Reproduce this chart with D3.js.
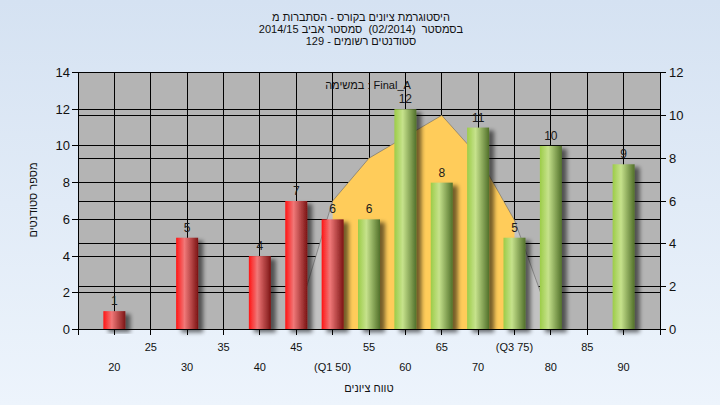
<!DOCTYPE html>
<html><head><meta charset="utf-8">
<script src="https://cdn.jsdelivr.net/npm/d3@7"></script>
<style>html,body{margin:0;padding:0;}svg{display:block;}text{white-space:pre;}</style>
</head><body>
<script>
const categories = [20,25,30,35,40,45,50,55,60,65,70,75,80,85,90];
const tickLabels = ["20","25","30","35","40","45","(Q1 50)","55","60","65","70","(Q3 75)","80","85","90"];
const counts = [1,0,5,0,4,7,6,6,12,8,11,5,10,0,9];
const curveCats = [45,50,55,60,65,70,75,80];
const curveVals = [0.4,6.0,8.0,9.0,10.0,8.1,5.1,0.4];
const q1 = 50, q3 = 75, passMark = 55;
const leftTicks = [0,2,4,6,8,10,12,14];
const rightTicks = [0,2,4,6,8,10,12];
const titleLines = ["היסטוגרמת ציונים בקורס - הסתברות מ","בסמסטר  (02/2014)  סמסטר אביב 2014/15","סטודנטים רשומים - 129"];
const annotation = "במשימה : Final_A";
const xTitle = "טווח ציונים";
const yTitle = "מספר סטודנטים";

const W=720,H=405;
const m={l:78,r:660,t:72.5,b:329.5};
const FONT="'Liberation Sans', Arial, sans-serif";
const svg=d3.select("body").append("svg").attr("width",W).attr("height",H);
const defs=svg.append("defs");
const bg=defs.append("linearGradient").attr("id","bg").attr("x1",0).attr("y1",0).attr("x2",0).attr("y2",1);
bg.append("stop").attr("offset","0%").attr("stop-color","#d5e2f2");
bg.append("stop").attr("offset","100%").attr("stop-color","#edf4fc");
function cyl(id,c0,c1,c2){
  const g=defs.append("linearGradient").attr("id",id).attr("x1",0).attr("y1",0).attr("x2",1).attr("y2",0);
  g.append("stop").attr("offset","0%").attr("stop-color",c0);
  g.append("stop").attr("offset","38%").attr("stop-color",c1);
  g.append("stop").attr("offset","100%").attr("stop-color",c2);
}
cyl("red","#ff1414","#f07878","#7c1414");
cyl("green","#9ccc48","#c6e28c","#51702a");
const f=defs.append("filter").attr("id","sh").attr("x","-50%").attr("y","-20%").attr("width","200%").attr("height","140%");
f.append("feGaussianBlur").attr("in","SourceAlpha").attr("stdDeviation",2).attr("result","b");
f.append("feOffset").attr("in","b").attr("dx",5).attr("dy",3).attr("result","o");
f.append("feComponentTransfer").attr("in","o").attr("result","o2").append("feFuncA").attr("type","linear").attr("slope",0.55);
const mg=f.append("feMerge");mg.append("feMergeNode").attr("in","o2");mg.append("feMergeNode").attr("in","SourceGraphic");

svg.append("rect").attr("width",W).attr("height",H).attr("fill","url(#bg)");

const x=d3.scalePoint().domain(categories).range([m.l,m.r]).padding(1);
const yL=d3.scaleLinear().domain([0,14]).range([m.b,m.t]);
const yR=d3.scaleLinear().domain([0,12]).range([m.b,m.t]);

svg.append("rect").attr("x",m.l).attr("y",m.t).attr("width",m.r-m.l).attr("height",m.b-m.t).attr("fill","#b4b4b4");
const grid=svg.append("g").attr("stroke","#000").attr("stroke-width",1).attr("shape-rendering","crispEdges");
categories.forEach(c=>grid.append("line").attr("x1",x(c)).attr("x2",x(c)).attr("y1",m.t).attr("y2",m.b));
leftTicks.forEach(t=>grid.append("line").attr("x1",m.l).attr("x2",m.r).attr("y1",yL(t)).attr("y2",yL(t)));
rightTicks.forEach(t=>grid.append("line").attr("x1",m.l).attr("x2",m.r).attr("y1",yR(t)).attr("y2",yR(t)));

// curve
const cpts=curveCats.map((c,i)=>({c,v:curveVals[i]}));
const area=d3.area().x(d=>x(d.c)).y0(yR(0)).y1(d=>yR(d.v));
svg.append("path").datum(cpts).attr("d",area).attr("fill","#c2c2c2");
svg.append("path").datum(cpts.filter(d=>d.c>=q1&&d.c<=q3)).attr("d",area).attr("fill","#ffcc5a");
svg.append("path").datum(cpts).attr("d",d3.line().x(d=>x(d.c)).y(d=>yR(d.v))).attr("fill","none").attr("stroke","#606060").attr("stroke-width",0.8).attr("stroke-opacity",0.7);

// bars
const bw=22;
const data=categories.map((c,i)=>({c,v:counts[i]})).filter(d=>d.v>0);
svg.append("g").selectAll("rect").data(data).join("rect")
  .attr("x",d=>x(d.c)-bw/2).attr("y",d=>yL(d.v)).attr("width",bw).attr("height",d=>yL(0)-yL(d.v))
  .attr("fill",d=>d.c<passMark?"url(#red)":"url(#green)").attr("filter","url(#sh)");
svg.append("g").selectAll("text").data(data).join("text")
  .attr("x",d=>x(d.c)).attr("y",d=>yL(d.v)-6).attr("text-anchor","middle")
  .attr("font-family",FONT).attr("font-size",12).attr("fill","#1a1a1a").text(d=>d.v);

// axes
const axG=svg.append("g").attr("stroke","#000").attr("shape-rendering","crispEdges");
axG.append("line").attr("x1",m.l).attr("x2",m.l).attr("y1",m.t).attr("y2",m.b+5);
axG.append("line").attr("x1",m.r).attr("x2",m.r).attr("y1",m.t).attr("y2",m.b+5);
axG.append("line").attr("x1",m.l).attr("x2",m.r).attr("y1",m.t).attr("y2",m.t);
axG.append("line").attr("x1",m.l).attr("x2",m.r).attr("y1",m.b).attr("y2",m.b);
[m.l,...categories.map(c=>x(c)),m.r].forEach(px=>axG.append("line").attr("x1",px).attr("x2",px).attr("y1",m.b).attr("y2",m.b+5));
leftTicks.forEach(t=>{
  axG.append("line").attr("x1",m.l-6).attr("x2",m.l).attr("y1",yL(t)).attr("y2",yL(t));
  svg.append("text").attr("x",m.l-8).attr("y",yL(t)+4.5).attr("text-anchor","end").attr("font-family",FONT).attr("font-size",13).attr("fill","#111").text(t);
});
rightTicks.forEach(t=>{
  axG.append("line").attr("x1",m.r).attr("x2",m.r+6).attr("y1",yR(t)).attr("y2",yR(t));
  svg.append("text").attr("x",m.r+9).attr("y",yR(t)+4.5).attr("text-anchor","start").attr("font-family",FONT).attr("font-size",13).attr("fill","#111").text(t);
});
categories.forEach((c,i)=>{
  svg.append("text").attr("x",x(c)).attr("y",i%2? 351:371).attr("text-anchor","middle")
   .attr("font-family",FONT).attr("font-size",11).attr("fill","#111").text(tickLabels[i]);
});
svg.append("text").attr("x",369).attr("y",392).attr("text-anchor","middle").attr("font-family",FONT).attr("font-size",11).attr("fill","#111").text(xTitle);
svg.append("text").attr("transform","translate(37,200) rotate(-90)").attr("text-anchor","middle").attr("font-family",FONT).attr("font-size",11).attr("fill","#111").text(yTitle);
titleLines.forEach((t,i)=>svg.append("text").attr("x",361).attr("y",21+i*12).attr("text-anchor","middle").attr("font-family",FONT).attr("font-size",11).attr("fill","#111").text(t));
svg.append("text").attr("x",368).attr("y",89).attr("text-anchor","middle").attr("font-family",FONT).attr("font-size",11).attr("fill","#111").text(annotation);
</script>
</body></html>
